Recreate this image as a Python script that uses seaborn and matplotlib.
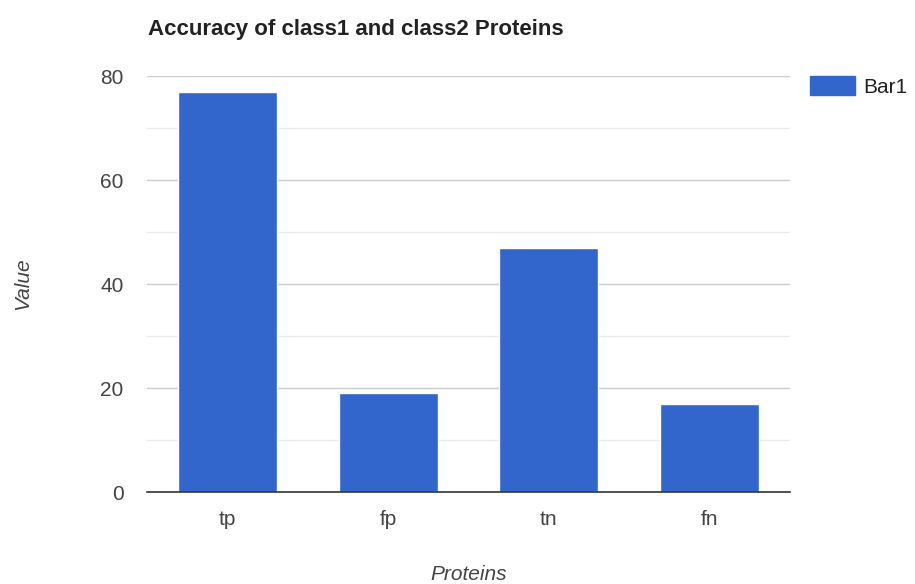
import matplotlib
matplotlib.use("Agg")
import matplotlib.pyplot as plt
from matplotlib.patches import Patch
from matplotlib.ticker import MultipleLocator
import seaborn as sns
import pandas as pd

categories = ["tp", "fp", "tn", "fn"]
values = [77, 19, 47, 17]
series_name = "Bar1"
y_ticks = [0, 20, 40, 60, 80]

sns.set_theme(style="white")
plt.rcParams["font.family"] = ["Liberation Sans", "DejaVu Sans"]

df = pd.DataFrame({"Proteins": categories, "Value": values})

W, H = 915, 584
fig = plt.figure(figsize=(W / 100, H / 100), dpi=100)
ax = fig.add_axes([147 / W, 1 - 492 / H, (790 - 147) / W, (492 - 76) / H])

bar_color = "#3366cc"
sns.barplot(data=df, x="Proteins", y="Value", color=bar_color, width=0.616,
            saturation=1, ax=ax, zorder=3)

ax.set_xlim(-0.5, 3.5)
ax.set_ylim(0, 80)
ax.set_yticks(y_ticks)
ax.yaxis.set_minor_locator(MultipleLocator(10))
ax.grid(axis="y", which="major", color="#cccccc", linewidth=1, zorder=0)
ax.grid(axis="y", which="minor", color="#ebebeb", linewidth=1, zorder=0)
ax.set_axisbelow(True)

for s in ["top", "right", "left"]:
    ax.spines[s].set_visible(False)
ax.spines["bottom"].set_color("#333333")
ax.spines["bottom"].set_linewidth(1.2)
ax.spines["bottom"].set_zorder(4)

tick_fs = 15
ax.tick_params(axis="both", which="both", length=0, labelsize=tick_fs, colors="#444444")
ax.tick_params(axis="y", pad=17)
ax.tick_params(axis="x", pad=13)

ax.set_xlabel("Proteins", fontsize=tick_fs, style="italic", color="#444444")
ax.set_ylabel("Value", fontsize=tick_fs, style="italic", color="#444444")
ax.xaxis.set_label_coords(0.5, (492 - 574) / (492 - 76))
ax.xaxis.label.set_va("center")
ax.yaxis.set_label_coords((23 - 147) / (790 - 147), 0.5)
ax.yaxis.label.set_va("center")

fig.text(148 / W, 1 - 35 / H, "Accuracy of class1 and class2 Proteins",
         fontsize=16, fontweight="bold", color="#222222", va="baseline", ha="left")

ax.legend(handles=[Patch(facecolor=bar_color, edgecolor=bar_color, label=series_name)],
          loc="upper left", bbox_to_anchor=(810 / W, 1 - 76 / H),
          bbox_transform=fig.transFigure, borderaxespad=0, borderpad=0,
          frameon=False, fontsize=tick_fs, handlelength=2.15, handleheight=1.05,
          handletextpad=0.4, labelcolor="#222222")

fig.savefig("out.png", dpi=100)
